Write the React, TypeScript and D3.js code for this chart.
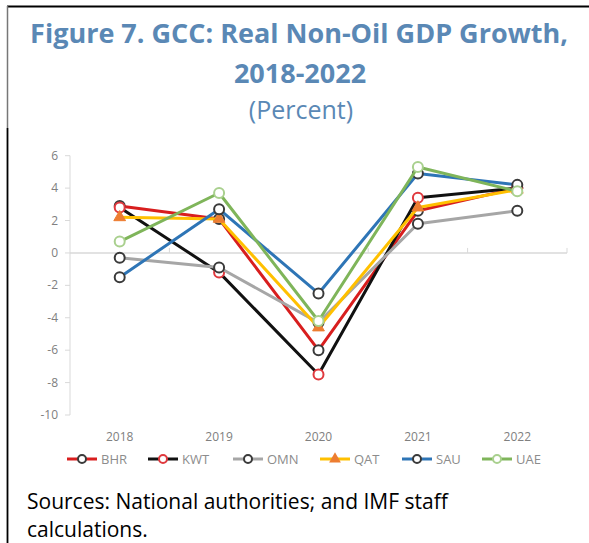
import React from "react";
import * as d3 from "d3";

const years = ["2018", "2019", "2020", "2021", "2022"];
const yTicks = [6, 4, 2, 0, -2, -4, -6, -8, -10];

const BHR = [2.9, 2.1, -6.0, 2.6, 4.0];
const KWT = [2.8, -1.2, -7.5, 3.4, 4.0];
const OMN = [-0.3, -0.9, -4.3, 1.8, 2.6];
const QAT = [2.2, 2.1, -4.6, 2.8, 3.9];
const SAU = [-1.5, 2.7, -2.5, 4.9, 4.2];
const UAE = [0.7, 3.7, -4.2, 5.3, 3.8];

const seriesNames = ["BHR", "KWT", "OMN", "QAT", "SAU", "UAE"];
const seriesValues = [BHR, KWT, OMN, QAT, SAU, UAE];
const lineColors = ["#D81E1E", "#111111", "#A6A6A6", "#FFC000", "#2E75B6", "#7FB55A"];
const markerColors = ["#3A3A3A", "#E0393E", "#3A3A3A", "#ED7D31", "#3A3A3A", "#A9D08E"];
const markerShapes = ["circle", "circle", "circle", "triangle", "circle", "circle"];

const W = 589;
const H = 543;
const plotLeft = 70;
const plotRight = 567;
const x = d3.scaleBand<string>().domain(years).range([plotLeft, plotRight]).padding(0);
const y = d3.scaleLinear().domain([-10, 6]).range([415, 155.7]);
const line = d3
  .line<number>()
  .x((_, i) => (x(years[i]) as number) + x.bandwidth() / 2)
  .y((d) => y(d));

const triPath = d3.symbol().type(d3.symbolTriangle).size(60)();

function Marker({ shape, cx, cy, color }: { shape: string; cx: number; cy: number; color: string }) {
  if (shape === "triangle") {
    return <path d={triPath as string} transform={`translate(${cx},${cy})`} fill={color} stroke={color} strokeWidth={1} />;
  }
  return <circle cx={cx} cy={cy} r={5} fill="#fff" stroke={color} strokeWidth={2} />;
}

const legendX = [67, 148, 233, 320, 402, 482];

export default function App() {
  const titleColor = "#5A88B5";
  const font = "'Open Sans', 'Noto Sans', sans-serif";
  return (
    <svg
      width={W}
      height={H}
      style={{ position: "fixed", top: 0, left: 0, background: "#fff" }}
      fontFamily={font}
    >
      <rect width={W} height={H} fill="#fff" />
      {/* frame */}
      <line x1={7} x2={W} y1={6.5} y2={6.5} stroke="#000" strokeWidth={2} />
      <line x1={7.5} x2={7.5} y1={6} y2={128} stroke="#777" strokeWidth={1.5} />
      <line x1={7.5} x2={7.5} y1={128} y2={H} stroke="#000" strokeWidth={1.8} />

      {/* title */}
      <text x={299} y={43} textAnchor="middle" fontSize={27} fontWeight="bold" fill={titleColor}>
        Figure 7. GCC: Real Non-Oil GDP Growth,
      </text>
      <text x={300} y={83} textAnchor="middle" fontSize={27} fontWeight="bold" fill={titleColor}>
        2018-2022
      </text>
      <text x={301} y={119} textAnchor="middle" fontSize={25} fill={titleColor}>
        (Percent)
      </text>

      {/* y axis */}
      <line x1={plotLeft} x2={plotLeft} y1={y(6)} y2={y(-10)} stroke="#D9D9D9" strokeWidth={1} />
      {yTicks.map((t) => (
        <g key={t}>
          <line x1={plotLeft - 5} x2={plotLeft} y1={y(t)} y2={y(t)} stroke="#D9D9D9" />
          <text x={58} y={y(t) + 4} textAnchor="end" fontSize={12} fill="#808080">
            {t}
          </text>
        </g>
      ))}
      {/* zero axis */}
      <line x1={plotLeft} x2={plotRight} y1={y(0)} y2={y(0)} stroke="#D9D9D9" strokeWidth={1.5} />
      {years.map((yr) => (
        <line
          key={"t" + yr}
          x1={(x(yr) as number) + x.bandwidth()}
          x2={(x(yr) as number) + x.bandwidth()}
          y1={y(0) - 5}
          y2={y(0)}
          stroke="#D9D9D9"
        />
      ))}
      {years.map((yr) => (
        <text
          key={yr}
          x={(x(yr) as number) + x.bandwidth() / 2}
          y={441}
          textAnchor="middle"
          fontSize={12}
          fill="#808080"
        >
          {yr}
        </text>
      ))}

      {/* series */}
      {seriesValues.map((vals, si) => (
        <g key={seriesNames[si]}>
          <path d={line(vals) as string} fill="none" stroke={lineColors[si]} strokeWidth={3} strokeLinejoin="round" />
          {vals.map((v, i) => (
            <Marker
              key={i}
              shape={markerShapes[si]}
              cx={(x(years[i]) as number) + x.bandwidth() / 2}
              cy={y(v)}
              color={markerColors[si]}
            />
          ))}
        </g>
      ))}

      {/* legend */}
      {seriesNames.map((n, i) => (
        <g key={"lg" + n}>
          <line x1={legendX[i]} x2={legendX[i] + 30} y1={459} y2={459} stroke={lineColors[i]} strokeWidth={3} />
          {markerShapes[i] === "triangle" ? (
            <path d={triPath as string} transform={`translate(${legendX[i] + 15},${459})`} fill={markerColors[i]} />
          ) : (
            <circle cx={legendX[i] + 15} cy={459} r={4} fill="#fff" stroke={markerColors[i]} strokeWidth={2} />
          )}
          <text x={legendX[i] + 34} y={464} fontSize={13} fill="#8C8C8C">
            {n}
          </text>
        </g>
      ))}

      {/* source */}
      <text x={27} y={509} fontSize={21} fill="#000">
        Sources: National authorities; and IMF staff
      </text>
      <text x={27} y={537} fontSize={21} fill="#000">
        calculations.
      </text>
    </svg>
  );
}
